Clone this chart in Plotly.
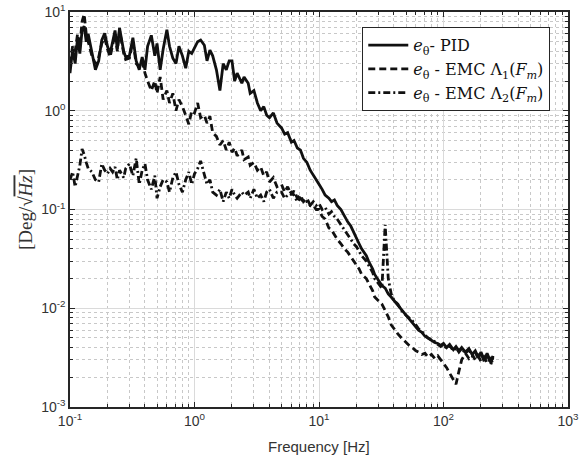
import plotly.graph_objects as go

# frequency grid [Hz]
freq = [0.10, 0.105, 0.11, 0.115, 0.12, 0.125, 0.13, 0.135, 0.14, 0.15,
        0.16, 0.17, 0.18, 0.19, 0.20, 0.21, 0.22, 0.23, 0.24, 0.25,
        0.27, 0.28, 0.30, 0.32, 0.34, 0.36, 0.38, 0.40, 0.42, 0.45,
        0.48, 0.50, 0.53, 0.56, 0.60, 0.63, 0.67, 0.71, 0.75, 0.80,
        0.85, 0.90, 0.95, 1.0, 1.06, 1.12, 1.2, 1.26, 1.33, 1.4,
        1.5, 1.6, 1.7, 1.8, 1.9, 2.0, 2.1, 2.2, 2.4, 2.5,
        2.7, 2.8, 3.0, 3.2, 3.4, 3.6, 3.8, 4.0, 4.3, 4.6,
        5.0, 5.3, 5.6, 6.0, 6.3, 6.7, 7.1, 7.5, 8.0, 8.5,
        9.0, 9.5, 10, 10.6, 11.2, 12, 12.6, 13.3, 14, 15,
        16, 17, 18, 19, 20, 21, 22, 24, 25, 27,
        28, 30, 32, 34, 36, 38, 40, 43, 46, 50,
        53, 56, 60, 63, 67, 71, 75, 80, 85, 90,
        95, 100, 106, 112, 120, 126, 133, 140, 150, 160,
        170, 180, 190, 200, 212, 224, 240, 250]

pid = [2.4, 4.2, 3.0, 5.5, 3.8, 6.5, 7.2, 5.0, 6.0, 4.0,
       2.6, 3.2, 5.2, 6.1, 4.5, 3.8, 5.0, 6.5, 4.2, 6.9,
       4.0, 3.5, 3.6, 5.5, 3.2, 2.6, 3.5, 2.6, 4.5, 5.8,
       3.6, 4.8, 2.6, 4.2, 6.6, 4.5, 3.4, 3.0, 4.5, 3.6,
       2.7, 4.0, 3.8, 4.4, 5.0, 5.2, 4.6, 3.2, 4.1, 3.6,
       2.6, 1.6, 3.0, 2.6, 3.2, 3.2, 2.0, 2.4, 1.9, 2.2,
       1.9, 1.5, 1.6, 1.2, 1.0, 1.1, 0.9, 0.85, 0.95, 0.75,
       0.67, 0.58, 0.60, 0.48, 0.50, 0.42, 0.40, 0.33, 0.30, 0.25,
       0.22, 0.20, 0.18, 0.16, 0.14, 0.13, 0.12, 0.125, 0.11, 0.10,
       0.085, 0.075, 0.068, 0.058, 0.05, 0.045, 0.04, 0.034, 0.03, 0.025,
       0.022, 0.019, 0.017, 0.016, 0.014, 0.013, 0.012, 0.0105, 0.0095, 0.0085,
       0.0078, 0.0072, 0.0065, 0.006, 0.0057, 0.0052, 0.005, 0.0047, 0.0045, 0.0044,
       0.0042, 0.0044, 0.004, 0.0043, 0.0038, 0.0041, 0.0037, 0.004, 0.0036, 0.0039,
       0.0034, 0.0037, 0.0032, 0.0036, 0.003, 0.0035, 0.0028, 0.0033]

emc1 = [3.0, 4.5, 4.0, 6.0, 4.5, 8.0, 9.5, 6.0, 5.0, 3.6,
        3.0, 3.5, 4.8, 5.5, 4.2, 3.5, 4.6, 6.0, 4.0, 6.5,
        3.8, 3.3, 3.4, 5.0, 3.0, 2.8, 3.2, 2.4, 2.0, 1.6,
        2.0, 1.5, 2.2, 1.3, 1.6, 1.2, 1.5, 1.0, 1.3, 1.1,
        0.9, 0.73, 1.0, 0.95, 1.2, 0.85, 0.9, 0.75, 0.88, 0.6,
        0.55, 0.45, 0.5, 0.4, 0.48, 0.38, 0.42, 0.35, 0.40, 0.32,
        0.34, 0.28, 0.30, 0.25, 0.27, 0.22, 0.24, 0.19, 0.21, 0.17,
        0.18, 0.15, 0.17, 0.14, 0.155, 0.13, 0.14, 0.12, 0.13, 0.11,
        0.11, 0.10, 0.10, 0.085, 0.08, 0.065, 0.062, 0.055, 0.05, 0.045,
        0.04, 0.037, 0.033, 0.03, 0.027, 0.025, 0.022, 0.02, 0.018, 0.015,
        0.013, 0.012, 0.011, 0.0095, 0.0082, 0.0068, 0.0062, 0.0055, 0.005, 0.0045,
        0.0042, 0.004, 0.0037, 0.0036, 0.0034, 0.0035, 0.0032, 0.0034, 0.0031, 0.0033,
        0.003, 0.0028, 0.0025, 0.0022, 0.0019, 0.0017, 0.0023, 0.003, 0.0035, 0.0031,
        0.0034, 0.003, 0.0033, 0.0029, 0.0032, 0.0028, 0.0031, 0.0027]

emc2 = [0.2, 0.24, 0.17, 0.22, 0.28, 0.41, 0.36, 0.3, 0.26, 0.24,
        0.2, 0.19, 0.29, 0.25, 0.23, 0.26, 0.24, 0.27, 0.2, 0.25,
        0.21, 0.26, 0.29, 0.22, 0.33, 0.18, 0.25, 0.29, 0.2, 0.16,
        0.22, 0.13, 0.17, 0.2, 0.19, 0.15, 0.21, 0.24, 0.18, 0.15,
        0.2, 0.24, 0.18, 0.23, 0.26, 0.31, 0.22, 0.18, 0.2, 0.15,
        0.14, 0.16, 0.12, 0.15, 0.13, 0.16, 0.14, 0.13, 0.15, 0.14,
        0.15, 0.13, 0.16, 0.13, 0.14, 0.12, 0.15, 0.16, 0.13, 0.15,
        0.15, 0.13, 0.14, 0.15, 0.14, 0.12, 0.13, 0.12, 0.12, 0.11,
        0.12, 0.11, 0.115, 0.1, 0.105, 0.09, 0.095, 0.085, 0.08, 0.07,
        0.062, 0.056, 0.05, 0.045, 0.042, 0.038, 0.034, 0.03, 0.027, 0.023,
        0.02, 0.018, 0.016, 0.07, 0.02, 0.014, 0.012, 0.011, 0.0095, 0.0085,
        0.008, 0.0075, 0.0068, 0.0062, 0.0058, 0.0054, 0.005, 0.0048, 0.0046, 0.0043,
        0.0041, 0.0043, 0.0039, 0.0042, 0.0037, 0.004, 0.0036, 0.0039, 0.0035, 0.0038,
        0.0033, 0.0036, 0.0031, 0.0035, 0.0029, 0.0034, 0.0027, 0.0032]

x_ticks = [0.1, 1, 10, 100, 1000]
x_ticktext = ["10<sup>-1</sup>", "10<sup>0</sup>", "10<sup>1</sup>", "10<sup>2</sup>", "10<sup>3</sup>"]
y_ticks = [0.001, 0.01, 0.1, 1, 10]
y_ticktext = ["10<sup>-3</sup>", "10<sup>-2</sup>", "10<sup>-1</sup>", "10<sup>0</sup>", "10<sup>1</sup>"]

names = ["<i>e</i><sub>θ</sub>- PID",
         "<i>e</i><sub>θ</sub> - EMC Λ<sub>1</sub>(<i>F</i><sub><i>m</i></sub>)",
         "<i>e</i><sub>θ</sub> - EMC Λ<sub>2</sub>(<i>F</i><sub><i>m</i></sub>)"]

fig = go.Figure()
for y, name, dash in [(pid, names[0], "solid"), (emc1, names[1], "7px,4px"), (emc2, names[2], "7px,3px,2px,3px")]:
    fig.add_trace(go.Scatter(x=freq, y=y, name=name, mode="lines",
                             line=dict(color="#111111", width=2.8, dash=dash)))

# minor ticks at 2..9 of every decade
x_minor = [k * 10.0 ** e for e in range(-1, 3) for k in range(2, 10)]
y_minor = [k * 10.0 ** e for e in range(-3, 1) for k in range(2, 10)]


def axis_style(minor_vals):
    return dict(type="log", showline=True, linecolor="#262626", linewidth=1.5, mirror="allticks",
                ticks="inside", ticklen=5, tickcolor="#262626", automargin=False,
                ticklabeloverflow="allow",
                showgrid=True, gridcolor="#dadada", gridwidth=1, zeroline=False,
                minor=dict(tickmode="array", tickvals=minor_vals, ticks="inside", ticklen=3,
                           tickcolor="#262626", showgrid=True, gridcolor="#c8c8c8",
                           griddash="dot", gridwidth=1),
                tickfont=dict(family="Liberation Sans", size=14, color="#333333"))


fig.update_xaxes(**axis_style(x_minor), range=[-1, 3], tickvals=x_ticks, ticktext=x_ticktext)
fig.update_yaxes(**axis_style(y_minor), range=[-3, 1], tickvals=y_ticks, ticktext=y_ticktext,
                 title=dict(text="[Deg/√<span style='text-decoration:overline'><i>Hz</i></span>]",
                            font=dict(family="Liberation Serif", size=19, color="#333333"),
                            standoff=4))

# x title as annotation so it can sit a bit lower than plotly's default spot
fig.add_annotation(text="Frequency [Hz]", xref="paper", yref="paper", x=0.5, y=0,
                   xanchor="center", yanchor="top", yshift=-29, showarrow=False,
                   font=dict(family="Liberation Sans", size=15, color="#333333"))

fig.update_layout(width=579, height=456, margin=dict(l=70, r=11, t=12, b=49),
                  plot_bgcolor="white", paper_bgcolor="white",
                  legend=dict(x=0.964, y=0.962, xanchor="right", yanchor="top", bgcolor="white",
                              bordercolor="#262626", borderwidth=1.2,
                              font=dict(family="DejaVu Serif", size=16, color="#111111"),
                              tracegroupgap=0, itemwidth=40))

# drop the default page margin so the figure sits at the window's corner
fig.write_html("out.html", config={"displayModeBar": False},
               post_script="document.body.style.margin='0';")
